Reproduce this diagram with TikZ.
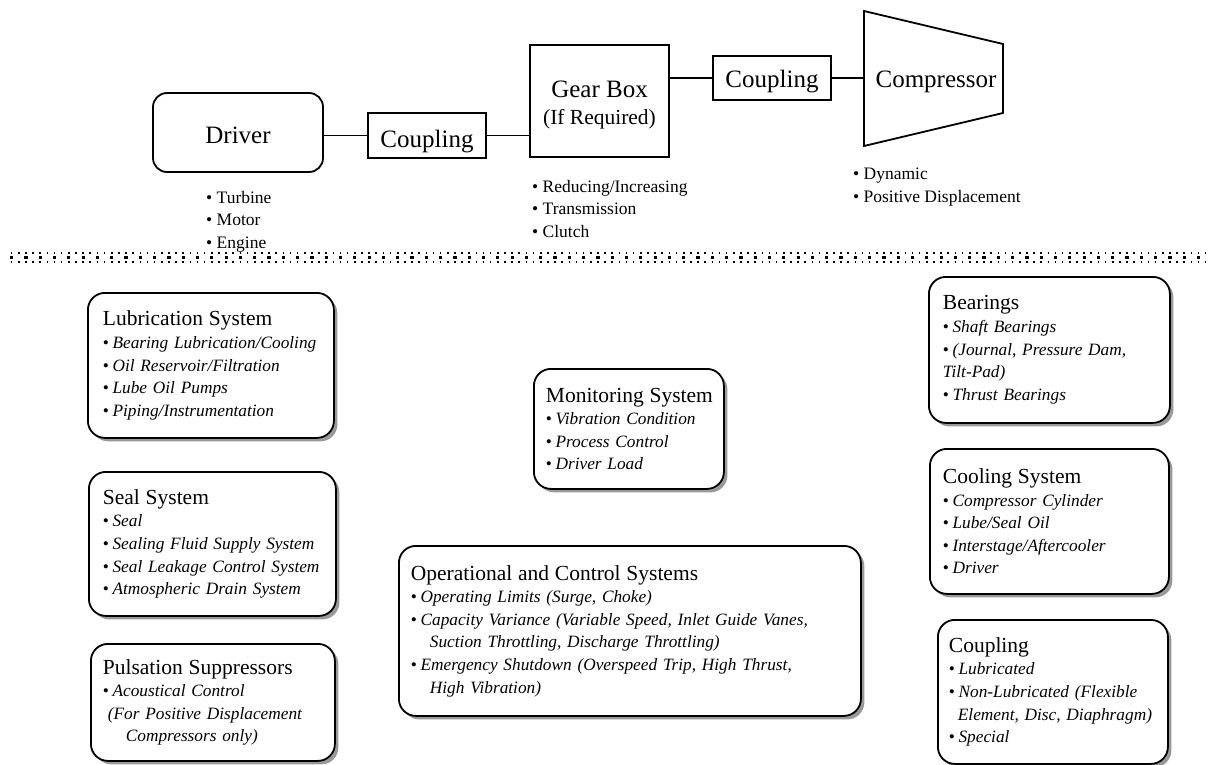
\documentclass[tikz,border=0pt]{standalone}
\usepackage{fontspec}
\setmainfont{Liberation Serif}
\usetikzlibrary{shadows}
\newcommand\ttl[1]{\mbox{\fontsize{21.5}{22.6}\selectfont #1}}
\newcommand\itm[1]{\mbox{\textbullet\hspace{3.6pt}\textit{#1}}}
\newcommand\cont[2]{\mbox{\hspace*{#1}\textit{#2}}}
\begin{document}
\begin{tikzpicture}[x=1pt,y=-1pt,
  conn/.style={line width=1.8pt},
  topbox/.style={draw, line width=1.8pt, inner sep=0pt, font=\fontsize{25}{27}\selectfont},
  sysbox/.style={draw, line width=1.8pt, rounded corners=17pt, fill=white, anchor=north west,
    align=left, inner ysep=0pt,
    drop shadow={shadow xshift=3.5pt, shadow yshift=-3.5pt, fill=black!40, opacity=1},
    font=\fontsize{17.3}{22.6}\selectfont},
  blist/.style={anchor=north west, inner sep=0pt, align=left, font=\fontsize{17.5}{22.6}\selectfont},
]
\path[use as bounding box] (0,0) rectangle (1210,765);

% ---- top chain ----
\node[topbox, rounded corners=14pt, minimum width=170pt, minimum height=79pt,
      text height=21pt, text depth=0pt] (driver) at (238,132.5) {Driver};
\node[topbox, minimum width=118pt, minimum height=45pt,
      text height=23pt, text depth=0pt] (cpl1) at (427,135.5) {Coupling};
\node[topbox, minimum width=139pt, minimum height=112pt, align=center] (gear) at (599.5,101)
  {\rule{0pt}{25pt}Gear Box\\ {\fontsize{21.5}{27}\selectfont (If Required)}};
\node[topbox, minimum width=118pt, minimum height=44pt,
      text height=20pt, text depth=0pt] (cpl2) at (772,78) {Coupling};
\coordinate (cTL) at (864,11);
\coordinate (cTR) at (1003,44);
\coordinate (cBR) at (1003,113);
\coordinate (cBL) at (864,146);
\draw[line width=1.8pt] (cTL) -- (cTR) -- (cBR) -- (cBL) -- cycle;
\node[inner sep=0pt, font=\fontsize{25}{27}\selectfont, text height=19pt, text depth=0pt]
  (comp) at (936,78.5) {Compressor};

\draw[conn] (cpl1.west) -- (cpl1.west -| driver.east);
\draw[conn] (cpl1.east) -- (cpl1.east -| gear.west);
\draw[conn] (cpl2.west) -- (cpl2.west -| gear.east);
\draw[conn] (cpl2.east) -- (cpl2.east -| cTL);

% ---- lists under the chain ----
\node[blist] (drvlist) at (206,191) {\textbullet\ Turbine\\ \textbullet\ Motor\\ \textbullet\ Engine};
\node[blist] (gearlist) at (532,180) {\textbullet\ Reducing/Increasing\\ \textbullet\ Transmission\\ \textbullet\ Clutch};
\node[blist] (complist) at (853,168) {\textbullet\ Dynamic\\ \textbullet\ Positive Displacement};

% ---- dotted separator ----
\draw[line width=3.2pt, dash pattern=on 3.2pt off 11.1pt] (10,257.5) -- (1209,257.5);
\draw[line width=1.6pt, dash pattern=on 1.6pt off 5.55pt] (10.8,253) -- (1209,253);
\draw[line width=1.6pt, dash pattern=on 1.6pt off 5.55pt] (10.8,262) -- (1209,262);

% ---- system boxes ----
\node[sysbox, text width=216pt, inner xsep=15pt, minimum height=145pt] (lub) at (87,292)
  {\ttl{Lubrication System}\\ \itm{Bearing Lubrication/Cooling}\\ \itm{Oil Reservoir/Filtration}\\
   \itm{Lube Oil Pumps}\\ \itm{Piping/Instrumentation}};
\node[sysbox, text width=219pt, inner xsep=14pt, minimum height=144pt] (seal) at (88,471)
  {\ttl{Seal System}\\ \itm{Seal}\\ \itm{Sealing Fluid Supply System}\\
   \itm{Seal Leakage Control System}\\ \itm{Atmospheric Drain System}};
\node[sysbox, text width=220pt, inner xsep=12pt, minimum height=117pt] (puls) at (90,643)
  {\ttl{Pulsation Suppressors}\\ \itm{Acoustical Control}\\ \cont{5pt}{(For Positive Displacement}\\
   \cont{23pt}{Compressors only)}};
\node[sysbox, text width=166pt, inner xsep=12pt, minimum height=120pt] (mon) at (533,368)
  {\ttl{Monitoring System}\\ \itm{Vibration Condition}\\ \itm{Process Control}\\ \itm{Driver Load}};
\node[sysbox, text width=438pt, inner xsep=12pt, minimum height=170pt] (ops) at (398,545)
  {\ttl{Operational and Control Systems}\\ \itm{Operating Limits (Surge, Choke)}\\
   \itm{Capacity Variance (Variable Speed, Inlet Guide Vanes,}\\
   \cont{19pt}{Suction Throttling, Discharge Throttling)}\\
   \itm{Emergency Shutdown (Overspeed Trip, High Thrust,}\\
   \cont{19pt}{High Vibration)}};
\node[sysbox, text width=213pt, inner xsep=14pt, minimum height=146pt] (bear) at (928,276)
  {\ttl{Bearings}\\ \itm{Shaft Bearings}\\ \itm{(Journal, Pressure Dam,}\\ \cont{0pt}{Tilt-Pad)}\\
   \itm{Thrust Bearings}};
\node[sysbox, text width=213pt, inner xsep=13pt, minimum height=145pt] (cool) at (929,448)
  {\ttl{Cooling System}\\ \itm{Compressor Cylinder}\\ \itm{Lube/Seal Oil}\\
   \itm{Interstage/Aftercooler}\\ \itm{Driver}};
\node[sysbox, text width=208pt, inner xsep=11pt, minimum height=144pt] (cplg) at (937,619)
  {\ttl{Coupling}\\ \itm{Lubricated}\\ \itm{Non-Lubricated (Flexible}\\
   \cont{9pt}{Element, Disc, Diaphragm)}\\ \itm{Special}};
\end{tikzpicture}
\end{document}
